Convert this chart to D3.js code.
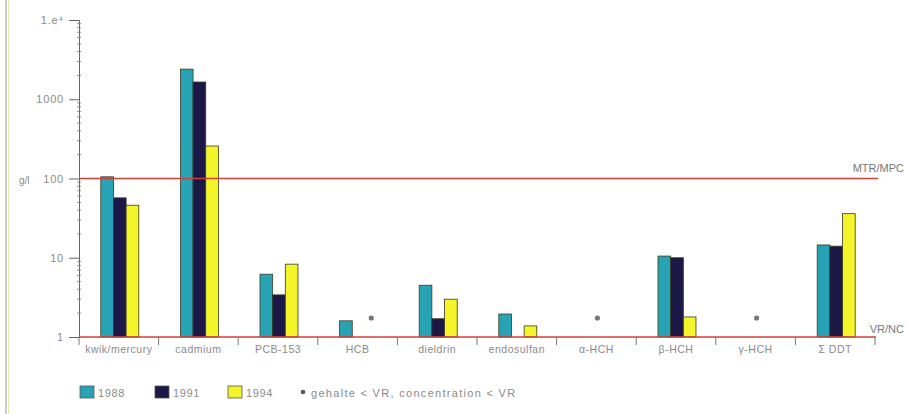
<!DOCTYPE html>
<html><head><meta charset="utf-8">
<script src="https://cdn.jsdelivr.net/npm/d3@7"></script>
<style>body{margin:0;background:#fff}svg{display:block}text{font-family:"Liberation Sans",Arial,sans-serif}</style>
</head><body><svg id="c" width="906" height="414"></svg>
<script>
const categories = ["kwik/mercury","cadmium","PCB-153","HCB","dieldrin","endosulfan","α-HCH","β-HCH","γ-HCH","Σ DDT"];
const years = ["1988","1991","1994"];
const v1988 = [105, 2400, 6.2, 1.6, 4.5, 1.95, null, 10.5, null, 14.5];
const v1991 = [57, 1650, 3.4, null, 1.7, null, null, 10, null, 14];
const v1994 = [46, 257, 8.3, null, 3.0, 1.38, null, 1.79, null, 36];
const belowVR = [["HCB","1994"],["α-HCH","1991"],["γ-HCH","1991"]];
const yTicks = [1, 10, 100, 1000, 10000];
const yTickLabels = ["1", "10", "100", "1000", "1.e⁴"];
const mtr = 100, vr = 1;
const colors = {"1988":"#27a3b5","1991":"#1b1848","1994":"#f4f42a"};
const series = {"1988":v1988,"1991":v1991,"1994":v1994};

const svg = d3.select("#c");
const x = d3.scaleBand().domain(categories).range([79, 875]);
const xs = d3.scaleBand().domain(years).range([-18, 20]);
const y = d3.scaleLog().domain([1, 10000]).range([337, 20]);
const grey = "#8a8a8a";

// frame
svg.append("line").attr("x1",6).attr("x2",6).attr("y1",0).attr("y2",414).attr("stroke","#bbb").attr("stroke-width",1.5);
svg.append("line").attr("x1",8.5).attr("x2",8.5).attr("y1",0).attr("y2",414).attr("stroke","#eee6b0").attr("stroke-width",1);

// bars
years.forEach(yr => {
  svg.append("g").selectAll("rect").data(categories.map((c,i)=>({c, v: series[yr][i]})).filter(d=>d.v!=null))
    .join("rect")
    .attr("x", d => x(d.c) + x.bandwidth()/2 + xs(yr))
    .attr("width", xs.bandwidth())
    .attr("y", d => y(d.v))
    .attr("height", d => y(1) - y(d.v))
    .attr("fill", colors[yr])
    .attr("stroke", "#3a3a20").attr("stroke-width", 0.8);
});

// asterisks
svg.append("g").selectAll("circle").data(belowVR).join("circle")
  .attr("cx", d => x(d[0]) + x.bandwidth()/2 + xs(d[1]) + xs.bandwidth()/2)
  .attr("cy", 318).attr("r", 2.6).attr("fill", "#777");

// y axis
const yAxis = d3.axisLeft(y).tickValues(yTicks).tickFormat((d,i)=>yTickLabels[i]).tickSize(10).tickPadding(5);
const gy = svg.append("g").attr("transform","translate(79,0)").call(yAxis);
gy.select(".domain").attr("stroke","#666");
gy.selectAll(".tick line").attr("stroke","#666");
gy.selectAll("text").attr("fill",grey).attr("font-size",11).attr("letter-spacing",0.8);
// minor ticks
const minor = [];
for (let p=1;p<10000;p*=10) for (let k=2;k<10;k++) minor.push(p*k);
svg.append("g").selectAll("line").data(minor).join("line")
  .attr("x1",77).attr("x2",81).attr("y1",d=>y(d)).attr("y2",d=>y(d)).attr("stroke","#777").attr("stroke-width",0.8);
svg.append("text").attr("x",19).attr("y",184).attr("fill",grey).attr("font-size",10).text("g/l");

// x axis
const xAxis = d3.axisBottom(x).tickSize(0).tickPadding(9);
const gx = svg.append("g").attr("transform","translate(0,337)").call(xAxis);
gx.select(".domain").remove();
gx.selectAll("text").attr("fill",grey).attr("font-size",10.5).attr("letter-spacing",0.5);
const bounds = categories.map(c=>x(c)).concat([x.range()[1]]);
svg.append("g").selectAll("line").data(bounds).join("line")
  .attr("x1",d=>d).attr("x2",d=>d).attr("y1",337).attr("y2",345).attr("stroke","#777");

// reference lines
svg.append("line").attr("x1",79).attr("x2",878).attr("y1",y(mtr)).attr("y2",y(mtr)).attr("stroke","#d2403a").attr("stroke-width",1.6);
svg.append("line").attr("x1",79).attr("x2",876).attr("y1",y(vr)).attr("y2",y(vr)).attr("stroke","#d2403a").attr("stroke-width",1.6);
svg.append("text").attr("x",904).attr("y",y(mtr)-7).attr("text-anchor","end").attr("fill","#777").attr("font-size",11).text("MTR/MPC");
svg.append("text").attr("x",904).attr("y",y(vr)-4).attr("text-anchor","end").attr("fill","#777").attr("font-size",11).text("VR/NC");

// legend
const lx = [80, 155, 228];
years.forEach((yr,i)=>{
  svg.append("rect").attr("x",lx[i]).attr("y",386).attr("width",14).attr("height",12).attr("fill",colors[yr]).attr("stroke","#555").attr("stroke-width",0.8);
  svg.append("text").attr("x",lx[i]+18).attr("y",397).attr("fill",grey).attr("font-size",11).attr("letter-spacing",0.6).text(yr);
});
svg.append("circle").attr("cx",303).attr("cy",392).attr("r",2.3).attr("fill","#555");
svg.append("text").attr("x",311).attr("y",397).attr("fill",grey).attr("font-size",11).attr("letter-spacing",1.3).text("gehalte < VR, concentration < VR");
</script></body></html>
